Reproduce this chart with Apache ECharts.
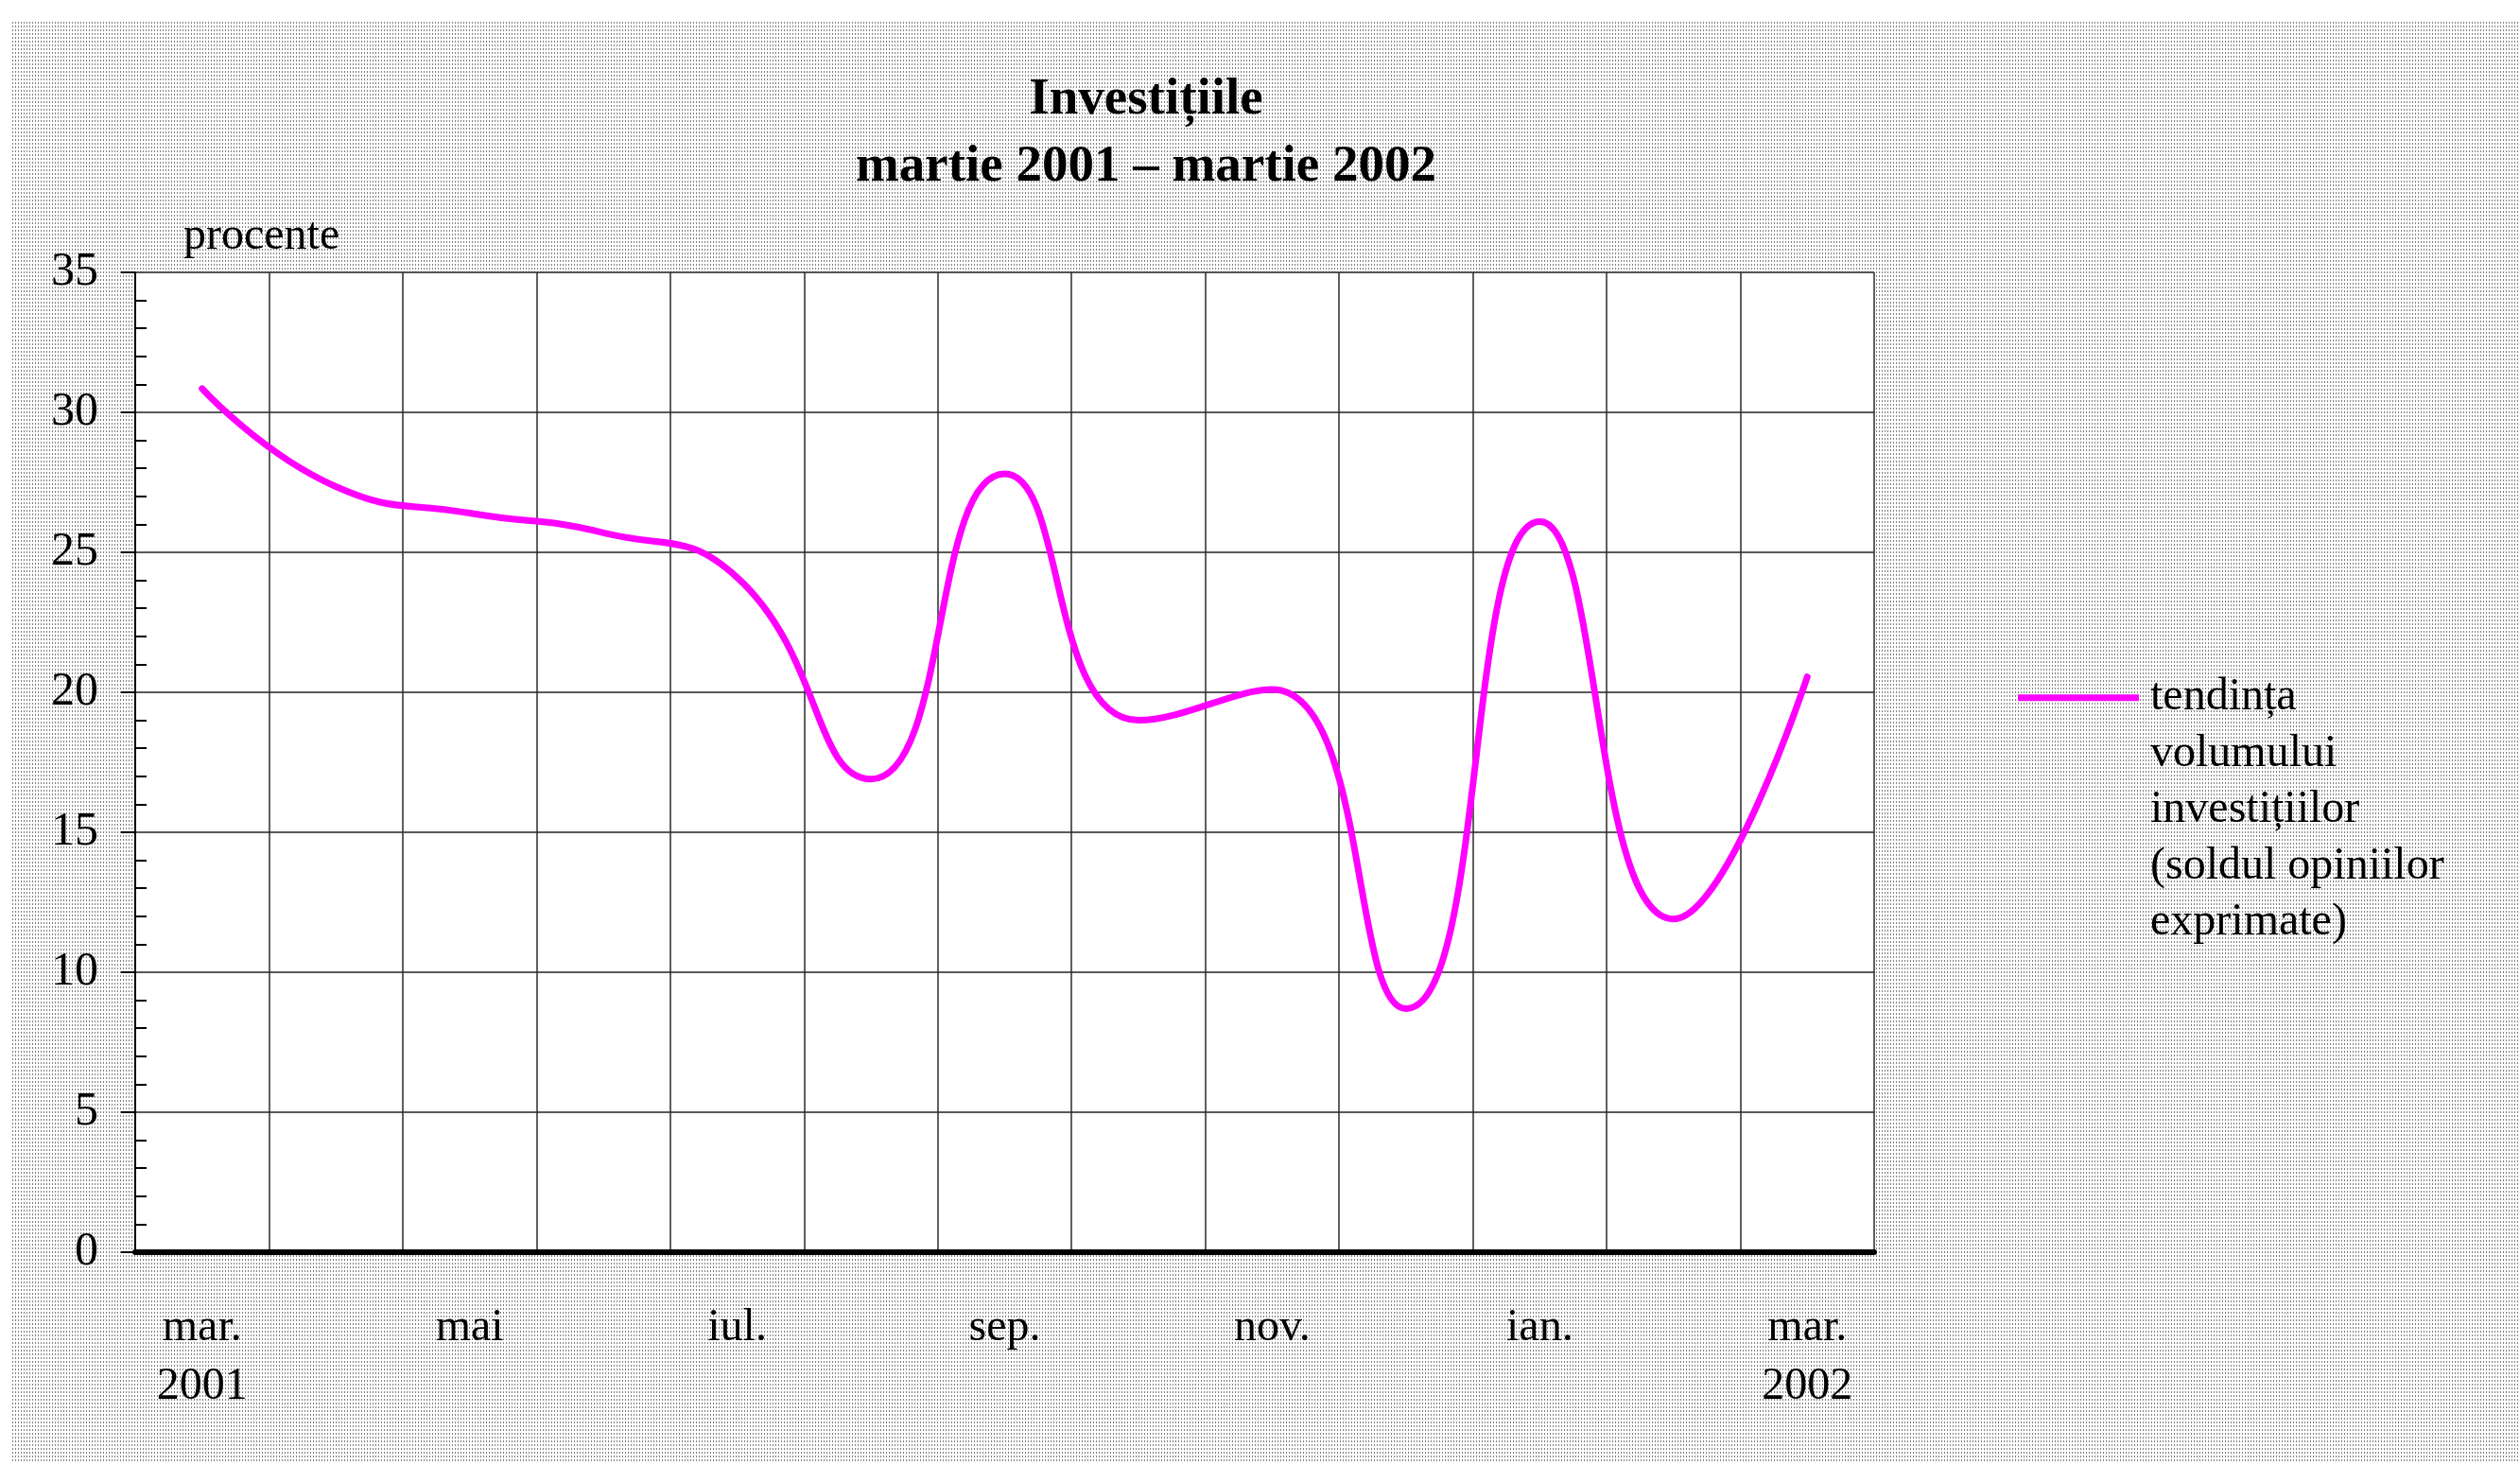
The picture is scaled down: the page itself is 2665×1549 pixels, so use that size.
<!DOCTYPE html>
<html>
<head>
<meta charset="utf-8">
<script src="https://cdn.jsdelivr.net/npm/echarts@6/dist/echarts.min.js"></script>
<style>
  html, body { margin: 0; padding: 0; background: #fff; }
  #pattern {
    position: absolute; left: 13px; top: 23px; right: 0; bottom: 4px;
    background-color: #fff;
    background-image: url("data:image/svg+xml;utf8,<svg xmlns='http://www.w3.org/2000/svg' width='3' height='4'><rect width='1' height='2' fill='%23808080'/></svg>");
  }
  #chart { position: absolute; left: 0; top: 0; width: 2665px; height: 1549px; }
</style>
</head>
<body>
<div id="pattern"></div>
<div id="chart"></div>
<script>
// luni martie 2001 - martie 2002
const months = ['mar.\n2001', 'apr.', 'mai', 'iun.', 'iul.', 'aug.', 'sep.', 'oct.', 'nov.', 'dec.', 'ian.', 'feb.', 'mar.\n2002']
// soldul opiniilor exprimate, procente
const tendinta = [30.85, 27.35, 26.4, 25.7, 24.1, 16.9, 27.8, 19.0, 20.1, 8.7, 26.1, 11.9, 20.55]
const yMin = 0
const yMax = 35
const yStep = 5

const seriesName = 'tendința\nvolumului\ninvestițiilor\n(soldul opiniilor\nexprimate)'
const font = 'Liberation Serif'

const myChart = echarts.init(document.getElementById('chart'))

const option = {
  backgroundColor: 'transparent',
  animation: false,
  title: {
    text: 'Investițiile\nmartie 2001 – martie 2002',
    left: 1212,
    top: 70,
    padding: 0,
    textAlign: 'center',
    textStyle: {
      fontFamily: font,
      fontWeight: 'bold',
      fontSize: 55,
      lineHeight: 71,
      color: '#000',
    },
  },
  legend: {
    left: 2134,
    top: 463,
    padding: 0,
    selectedMode: false,
    icon: 'rect',
    itemWidth: 128,
    itemHeight: 7,
    // blank lines on top so the icon sits next to the first line of text
    formatter: (name) => '\n\n\n\n' + name,
    textStyle: {
      fontFamily: font,
      fontSize: 48,
      lineHeight: 59.5,
      color: '#000',
      padding: [14, 0, 0, 7],
    },
    data: [seriesName],
  },
  grid: {
    left: 143,
    top: 288,
    right: 683,
    bottom: 225,
    containLabel: false,
    outerBoundsMode: 'none',
    show: true,
    backgroundColor: '#fff',
    borderWidth: 0,
  },
  xAxis: {
    type: 'category',
    boundaryGap: true,
    data: months,
    axisLine: { lineStyle: { color: '#000', width: 6 } },
    axisTick: { show: false },
    axisLabel: {
      interval: 1,
      margin: 49,
      fontFamily: font,
      fontSize: 48,
      lineHeight: 62,
      color: '#000',
    },
    splitLine: { show: true, interval: 0, lineStyle: { color: '#2a2a2a', width: 1.5 } },
  },
  yAxis: {
    type: 'value',
    min: yMin,
    max: yMax,
    interval: yStep,
    name: 'procente',
    nameLocation: 'end',
    nameGap: 14,
    nameTextStyle: {
      fontFamily: font,
      fontSize: 48,
      color: '#000',
      align: 'left',
      padding: [0, 0, 0, 51],
    },
    axisLine: { show: true, lineStyle: { color: '#000', width: 2 } },
    axisTick: { show: true, length: 15, lineStyle: { color: '#000', width: 2 } },
    minorTick: { show: true, splitNumber: 5, length: -12, lineStyle: { color: '#000', width: 2 } },
    axisLabel: {
      margin: 39,
      fontFamily: font,
      fontSize: 50,
      color: '#000',
    },
    splitLine: { show: true, lineStyle: { color: '#222', width: 1.5 } },
  },
  series: [
    {
      name: seriesName,
      type: 'line',
      smooth: 0.5,
      symbol: 'none',
      data: tendinta,
      color: '#ff00ff',
      lineStyle: { color: '#ff00ff', width: 7, cap: 'round', join: 'round' },
    },
  ],
}

myChart.setOption(option)
</script>
</body>
</html>
